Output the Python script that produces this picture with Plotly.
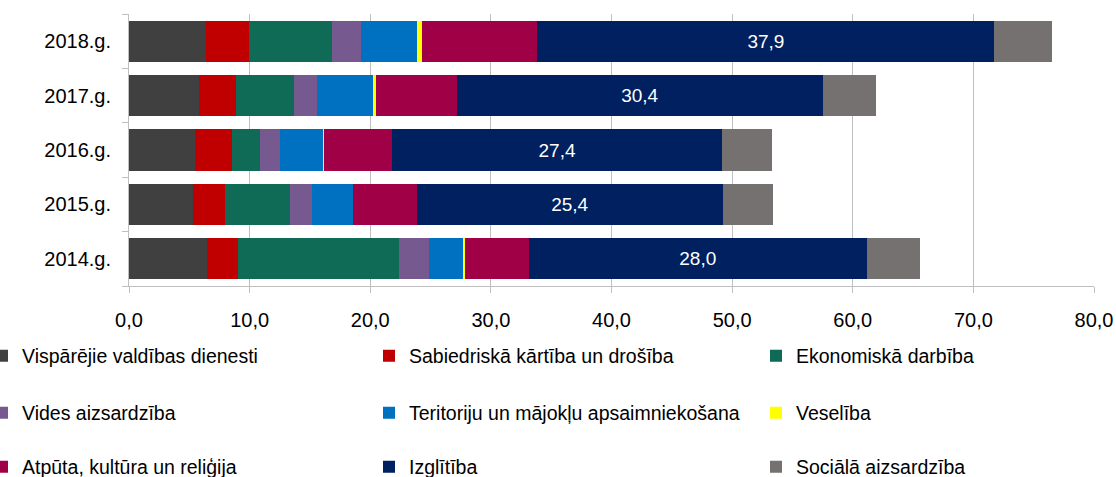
import plotly.graph_objects as go

# Years (bottom to top on the chart)
years = ["2014.g.", "2015.g.", "2016.g.", "2017.g.", "2018.g."]

# Spending by function, same order as years
visparejie = [6.45, 5.3, 5.5, 5.8, 6.35]
sabiedriska = [2.55, 2.65, 3.0, 3.1, 3.6]
ekonomiska = [13.4, 5.4, 2.4, 4.75, 6.85]
vides = [2.45, 1.8, 1.6, 1.9, 2.4]
teritoriju = [2.9, 3.4, 3.6, 4.65, 4.65]
veseliba = [0.1, 0.0, 0.1, 0.25, 0.4]
atputa = [5.3, 5.3, 5.6, 6.7, 9.6]
izglitiba = [28.0, 25.4, 27.4, 30.4, 37.9]
sociala = [4.4, 4.1, 4.1, 4.4, 4.8]

series_names = [
    "Vispārējie valdības dienesti",
    "Sabiedriskā kārtība un drošība",
    "Ekonomiskā darbība",
    "Vides aizsardzība",
    "Teritoriju un mājokļu apsaimniekošana",
    "Veselība",
    "Atpūta, kultūra un reliģija",
    "Izglītība",
    "Sociālā aizsardzība",
]
series_values = [visparejie, sabiedriska, ekonomiska, vides, teritoriju,
                 veseliba, atputa, izglitiba, sociala]
series_colors = ["#404040", "#C00000", "#0F6B55", "#765A8F", "#0070C0",
                 "#FFFF00", "#A00045", "#002060", "#767171"]

x_ticks = [0, 10, 20, 30, 40, 50, 60, 70, 80]

FONT = "Liberation Sans, Arial, sans-serif"
W, H = 1116, 477
M_L, M_R, M_T, M_B = 129, 22, 14, 191
PLOT_W = W - M_L - M_R
PLOT_H = H - M_T - M_B

# Legend grid: three columns, three rows (pixel positions of the text start / row centre)
legend_col_x = [22, 409, 796]
legend_row_y = [356, 413, 467]

fig = go.Figure()
legend_layouts = {}
for i, (name, vals, col) in enumerate(zip(series_names, series_values, series_colors)):
    lid = "legend" if i == 0 else f"legend{i + 1}"
    trace = dict(
        x=vals, y=years, name=name, orientation="h",
        marker=dict(color=col, line=dict(width=0)),
        legend=lid,
    )
    if name == "Izglītība":
        trace.update(
            texttemplate="%{x:.1f}", textposition="inside",
            insidetextanchor="middle",
            textfont=dict(color="white", size=19, family=FONT),
            constraintext="none",
        )
    fig.add_trace(go.Bar(**trace))

    px = legend_col_x[i % 3] - 40
    py = legend_row_y[i // 3]
    legend_layouts[lid] = dict(
        orientation="h", xref="paper", yref="paper",
        x=(px - M_L) / PLOT_W, xanchor="left",
        y=(H - M_B - py) / PLOT_H, yanchor="middle",
        itemwidth=30,
        font=dict(size=19.5, family=FONT, color="#000"),
        bgcolor="rgba(0,0,0,0)",
    )

fig.update_layout(
    template="none",
    barmode="stack",
    bargap=0.246,
    width=W, height=H,
    margin=dict(l=M_L, r=M_R, t=M_T, b=M_B, autoexpand=False),
    paper_bgcolor="white", plot_bgcolor="white",
    separators=", ",
    font=dict(family=FONT, size=19, color="#000"),
    showlegend=True,
    **legend_layouts,
)
fig.update_xaxes(
    range=[0, 80], tickvals=x_ticks, tickformat=".1f",
    showgrid=True, gridcolor="#BFBFBF", gridwidth=1,
    showline=True, linecolor="#BFBFBF", linewidth=1,
    ticks="outside", ticklen=6, tickcolor="#BFBFBF",
    ticklabelstandoff=10,
    tickfont=dict(size=20, family=FONT, color="#000"),
    zeroline=False, fixedrange=True, automargin=False,
)
fig.update_yaxes(
    categoryorder="array", categoryarray=years,
    showline=True, linecolor="#BFBFBF", linewidth=1,
    ticks="outside", ticklen=6, tickcolor="#BFBFBF",
    tickson="boundaries", ticklabelstandoff=13,
    tickfont=dict(size=20, family=FONT, color="#000"),
    showgrid=False, fixedrange=True, automargin=False,
)

fig.write_html("out.html")
